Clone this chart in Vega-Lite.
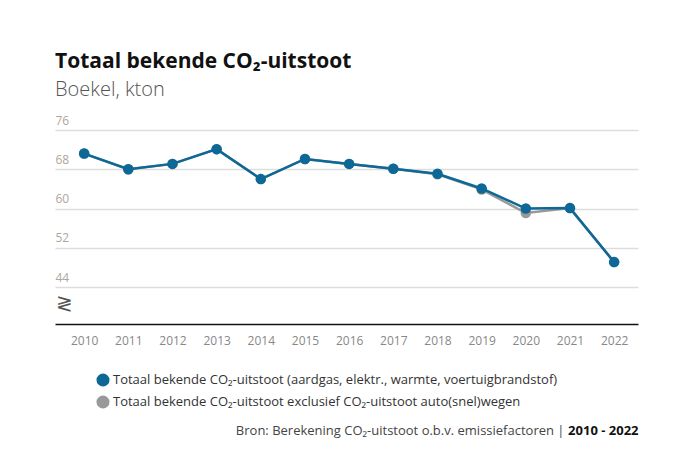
{
  "$schema": "https://vega.github.io/schema/vega-lite/v6.json",
  "width": 583,
  "height": 194,
  "autosize": {"type": "none"},
  "padding": {"left": 55, "top": 130, "right": 37, "bottom": 137},
  "background": "white",
  "title": {
    "text": "Totaal bekende CO₂-uitstoot",
    "subtitle": "Boekel, kton",
    "anchor": "start",
    "frame": "group",
    "offset": 14,
    "font": "Open Sans",
    "fontSize": 21,
    "fontWeight": "bold",
    "color": "#111111",
    "subtitleFont": "Open Sans",
    "subtitleFontSize": 20,
    "subtitleFontWeight": 300,
    "subtitleColor": "#555555",
    "subtitlePadding": 8
  },
  "config": {
    "view": {"stroke": null},
    "font": "Open Sans"
  },
  "data": {
    "values": [
      {"jaar": "2010", "serie": "Totaal bekende CO₂-uitstoot (aardgas, elektr., warmte, voertuigbrandstof)", "kton": 71.2},
      {"jaar": "2011", "serie": "Totaal bekende CO₂-uitstoot (aardgas, elektr., warmte, voertuigbrandstof)", "kton": 68.0},
      {"jaar": "2012", "serie": "Totaal bekende CO₂-uitstoot (aardgas, elektr., warmte, voertuigbrandstof)", "kton": 69.1},
      {"jaar": "2013", "serie": "Totaal bekende CO₂-uitstoot (aardgas, elektr., warmte, voertuigbrandstof)", "kton": 72.1},
      {"jaar": "2014", "serie": "Totaal bekende CO₂-uitstoot (aardgas, elektr., warmte, voertuigbrandstof)", "kton": 66.0},
      {"jaar": "2015", "serie": "Totaal bekende CO₂-uitstoot (aardgas, elektr., warmte, voertuigbrandstof)", "kton": 70.1},
      {"jaar": "2016", "serie": "Totaal bekende CO₂-uitstoot (aardgas, elektr., warmte, voertuigbrandstof)", "kton": 69.1},
      {"jaar": "2017", "serie": "Totaal bekende CO₂-uitstoot (aardgas, elektr., warmte, voertuigbrandstof)", "kton": 68.1},
      {"jaar": "2018", "serie": "Totaal bekende CO₂-uitstoot (aardgas, elektr., warmte, voertuigbrandstof)", "kton": 67.1},
      {"jaar": "2019", "serie": "Totaal bekende CO₂-uitstoot (aardgas, elektr., warmte, voertuigbrandstof)", "kton": 64.1},
      {"jaar": "2020", "serie": "Totaal bekende CO₂-uitstoot (aardgas, elektr., warmte, voertuigbrandstof)", "kton": 60.0},
      {"jaar": "2021", "serie": "Totaal bekende CO₂-uitstoot (aardgas, elektr., warmte, voertuigbrandstof)", "kton": 60.1},
      {"jaar": "2022", "serie": "Totaal bekende CO₂-uitstoot (aardgas, elektr., warmte, voertuigbrandstof)", "kton": 49.1},
      {"jaar": "2010", "serie": "Totaal bekende CO₂-uitstoot exclusief CO₂-uitstoot auto(snel)wegen", "kton": 71.2},
      {"jaar": "2011", "serie": "Totaal bekende CO₂-uitstoot exclusief CO₂-uitstoot auto(snel)wegen", "kton": 68.0},
      {"jaar": "2012", "serie": "Totaal bekende CO₂-uitstoot exclusief CO₂-uitstoot auto(snel)wegen", "kton": 69.1},
      {"jaar": "2013", "serie": "Totaal bekende CO₂-uitstoot exclusief CO₂-uitstoot auto(snel)wegen", "kton": 72.1},
      {"jaar": "2014", "serie": "Totaal bekende CO₂-uitstoot exclusief CO₂-uitstoot auto(snel)wegen", "kton": 66.0},
      {"jaar": "2015", "serie": "Totaal bekende CO₂-uitstoot exclusief CO₂-uitstoot auto(snel)wegen", "kton": 70.1},
      {"jaar": "2016", "serie": "Totaal bekende CO₂-uitstoot exclusief CO₂-uitstoot auto(snel)wegen", "kton": 69.1},
      {"jaar": "2017", "serie": "Totaal bekende CO₂-uitstoot exclusief CO₂-uitstoot auto(snel)wegen", "kton": 68.1},
      {"jaar": "2018", "serie": "Totaal bekende CO₂-uitstoot exclusief CO₂-uitstoot auto(snel)wegen", "kton": 67.0},
      {"jaar": "2019", "serie": "Totaal bekende CO₂-uitstoot exclusief CO₂-uitstoot auto(snel)wegen", "kton": 63.9},
      {"jaar": "2020", "serie": "Totaal bekende CO₂-uitstoot exclusief CO₂-uitstoot auto(snel)wegen", "kton": 59.1},
      {"jaar": "2021", "serie": "Totaal bekende CO₂-uitstoot exclusief CO₂-uitstoot auto(snel)wegen", "kton": 60.1},
      {"jaar": "2022", "serie": "Totaal bekende CO₂-uitstoot exclusief CO₂-uitstoot auto(snel)wegen", "kton": 49.1}
    ]
  },
  "encoding": {
    "x": {
      "field": "jaar",
      "type": "ordinal",
      "scale": {"type": "point", "padding": 0.6, "align": 0.55},
      "axis": {
        "labelAngle": 0,
        "labelColor": "#888888",
        "labelFontSize": 12,
        "labelPadding": 11,
        "ticks": false,
        "tickSize": 0,
        "domainColor": "#111111",
        "domainWidth": 1.5,
        "grid": false,
        "title": "Bron: Berekening CO₂-uitstoot o.b.v. emissiefactoren |",
        "titleFontSize": 13,
        "titleFontWeight": "normal",
        "titleColor": "#444444",
        "titleAlign": "right",
        "titleAnchor": null,
        "titleX": 509,
        "titleY": 106,
        "titleBaseline": "middle"
      }
    },
    "y": {
      "field": "kton",
      "type": "quantitative",
      "scale": {"domain": [36.5, 76], "nice": false, "zero": false},
      "axis": {
        "values": [38, 44, 52, 60, 68, 76],
        "labelExpr": "datum.value < 40 ? '≷' : datum.label",
        "labelAlign": "left",
        "labelBaseline": "bottom",
        "labelPadding": 0,
        "labelOffset": -3,
        "labelColor": {"condition": {"test": "datum.value < 40", "value": "#555555"}, "value": "#b0a69c"},
        "labelFontSize": {"condition": {"test": "datum.value < 40", "value": 20}, "value": 12},
        "ticks": false,
        "tickSize": 0,
        "domain": false,
        "grid": true,
        "gridColor": "#dddddd",
        "gridWidth": 1.5,
        "gridOpacity": {"condition": {"test": "datum.value < 40", "value": 0}, "value": 1},
        "title": "2010 - 2022",
        "titleAngle": 0,
        "titleFontSize": 13,
        "titleFontWeight": "bold",
        "titleColor": "#111111",
        "titleAlign": "right",
        "titleAnchor": null,
        "titleX": 583,
        "titleY": 300,
        "titleBaseline": "middle"
      }
    }
  },
  "layer": [
    {
      "transform": [{"filter": "indexof(datum.serie, 'exclusief') >= 0"}],
      "mark": {"type": "line", "strokeWidth": 2.5, "color": "#999999"},
      "encoding": {}
    },
    {
      "transform": [{"filter": "indexof(datum.serie, 'exclusief') >= 0"}],
      "mark": {"type": "point", "filled": true, "opacity": 1, "size": 110},
      "encoding": {
        "fill": {"field": "serie", "type": "nominal"}
      }
    },
    {
      "transform": [{"filter": "indexof(datum.serie, 'exclusief') < 0"}],
      "mark": {"type": "line", "strokeWidth": 2.5, "color": "#0d6897"},
      "encoding": {}
    },
    {
      "transform": [{"filter": "indexof(datum.serie, 'exclusief') < 0"}],
      "mark": {"type": "point", "filled": true, "opacity": 1, "size": 110},
      "encoding": {
        "fill": {
          "field": "serie",
          "type": "nominal",
          "scale": {
            "domain": ["Totaal bekende CO₂-uitstoot (aardgas, elektr., warmte, voertuigbrandstof)", "Totaal bekende CO₂-uitstoot exclusief CO₂-uitstoot auto(snel)wegen"],
            "range": ["#0d6897", "#999999"]
          },
          "legend": {
            "orient": "none",
            "legendX": 41,
            "legendY": 243,
            "title": null,
            "symbolType": "circle",
            "symbolSize": 170,
            "symbolStrokeWidth": 0,
            "labelFontSize": 13,
            "labelColor": "#333333",
            "labelLimit": 600,
            "rowPadding": 8,
            "labelOffset": 3
          }
        }
      }
    }
  ]
}
